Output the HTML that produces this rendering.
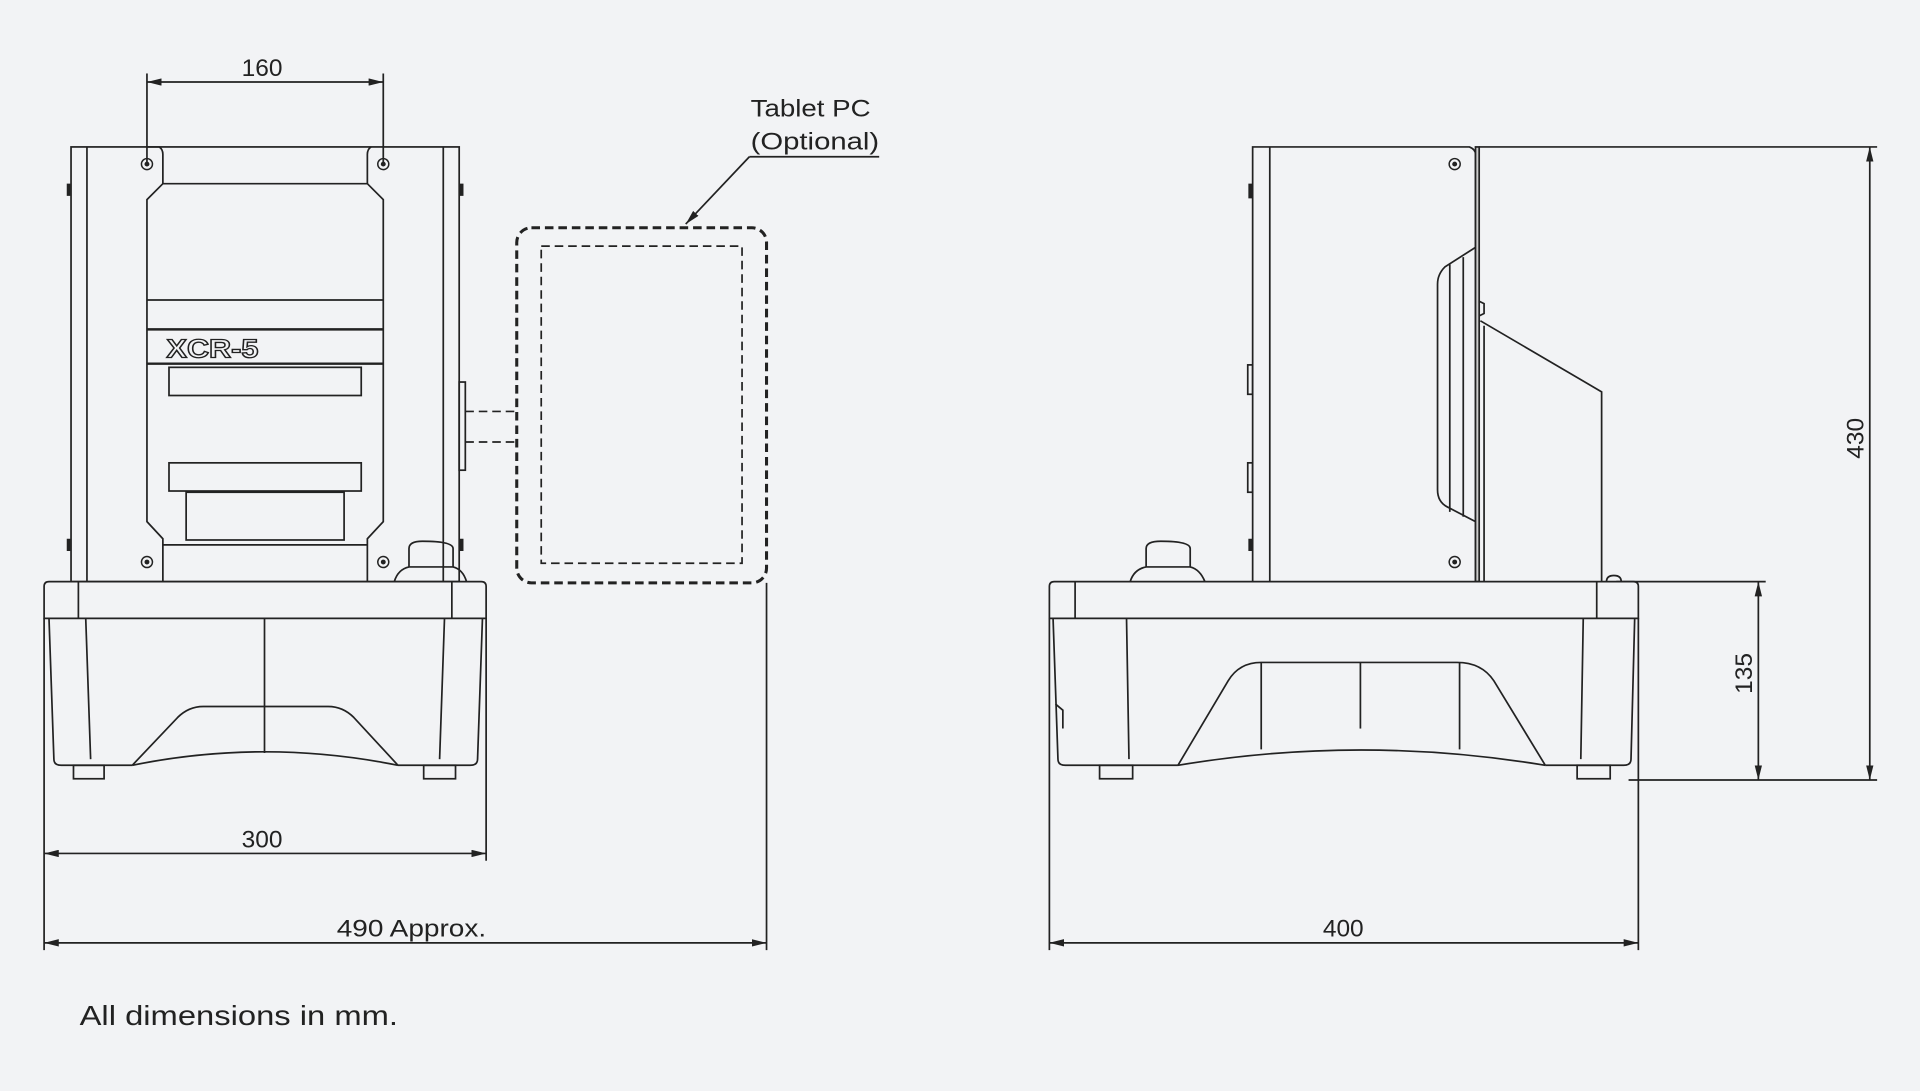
<!DOCTYPE html>
<html><head><meta charset="utf-8"><style>
html,body{margin:0;padding:0;background:#f2f3f5;}
svg{display:block;}
text{font-family:"Liberation Sans",sans-serif;fill:#222;}
</style></head><body>
<svg width="1920" height="1091" viewBox="0 0 1568 891" xmlns="http://www.w3.org/2000/svg">
<defs>
<marker id="a" viewBox="0 0 12 6" refX="12" refY="3" markerWidth="12" markerHeight="6" orient="auto-start-reverse" markerUnits="userSpaceOnUse"><path d="M0,0 L12,3 L0,6 z" fill="#222"/></marker>
<g id="s"><circle r="4.5" fill="none" stroke="#222" stroke-width="1.2"/><circle r="2" fill="#222"/></g>
</defs>
<rect width="1568" height="891" fill="#f2f3f5"/>
<g fill="none" stroke="#222" stroke-width="1.4">
<!-- LEFT MACHINE -->
<rect x="58" y="120" width="317" height="355"/>
<line x1="71" y1="120" x2="71" y2="475"/><line x1="362" y1="120" x2="362" y2="475"/>
<path d="M120,120 H130 Q133,122 133,126 V150 H300 V126 Q300,122 303,120"/>
<path d="M133,150 L120,163 V426 L133,440 V475 M300,150 L313,163 V426 L300,440 V475"/>
<line x1="133" y1="445" x2="300" y2="445"/>
<line x1="120" y1="245" x2="313" y2="245"/>
<line x1="120" y1="269" x2="313" y2="269" stroke-width="2"/>
<line x1="120" y1="297" x2="313" y2="297" stroke-width="2"/>
<rect x="138" y="300" width="157" height="23"/>
<rect x="138" y="378" width="157" height="23"/>
<rect x="152" y="402" width="129" height="39"/>
<path d="M56,160 V150 M56,440 V450 M377,150 V160 M377,440 V450" stroke-width="3"/>
<!-- e-stop -->
<path d="M334,463 V448 Q334,442 345,442 Q370,442 370,448 V463 M322,475 Q325,465 334,463 H370 Q378,465 381,475"/>
<!-- base -->
<path d="M36,505 V479 Q36,475 40,475 H393 Q397,475 397,479 V505 Z"/>
<line x1="64" y1="475" x2="64" y2="505"/><line x1="369" y1="475" x2="369" y2="505"/>
<path d="M40,505 L44,620 Q44,625 50,625 H108 M325,625 H384 Q390,625 390,620 L394,505"/>
<path d="M70,505 L74,620 M363,505 L359,620"/>
<path d="M108,625 L145,586 Q154,577 166,577 H268 Q280,577 289,586 L325,625"/>
<path d="M108,625 Q216,603 325,625"/>
<line x1="216" y1="505" x2="216" y2="615"/>
<rect x="60" y="625" width="25" height="11"/><rect x="346" y="625" width="26" height="11"/>
<!-- tablet -->
<rect x="375" y="312" width="5" height="72"/>
<g stroke-dasharray="7,4">
<line x1="380" y1="336" x2="422" y2="336"/><line x1="380" y1="361" x2="422" y2="361"/>
<rect x="422" y="186" width="204" height="290" rx="12" stroke-width="2.5"/>
<rect x="442" y="201" width="164" height="259"/>
</g>
<line x1="612" y1="128" x2="560" y2="183" marker-end="url(#a)"/>
<line x1="612" y1="128" x2="718" y2="128"/>
<!-- left dims -->
<line x1="120" y1="60" x2="120" y2="134"/><line x1="313" y1="60" x2="313" y2="134"/>
<line x1="120" y1="67" x2="313" y2="67" marker-start="url(#a)" marker-end="url(#a)"/>
<line x1="36" y1="505" x2="36" y2="776"/><line x1="397" y1="505" x2="397" y2="703"/>
<line x1="36" y1="697" x2="397" y2="697" marker-start="url(#a)" marker-end="url(#a)"/>
<line x1="626" y1="476" x2="626" y2="776"/>
<line x1="36" y1="770" x2="626" y2="770" marker-start="url(#a)" marker-end="url(#a)"/>

<!-- RIGHT MACHINE -->
<path d="M1023,475 V120 H1200 Q1205,122 1205,126 V475"/>
<line x1="1037" y1="120" x2="1037" y2="475"/>
<rect x="1205" y="120" width="3" height="355" fill="#ccc"/>
<path d="M1021,150 V162 M1021,440 V450" stroke-width="3"/>
<rect x="1019" y="298" width="4" height="24"/><rect x="1019" y="378" width="4" height="24"/>
<path d="M1205,202 L1180,218 Q1174,224 1174,232 V400 Q1174,410 1182,414 L1205,426"/>
<line x1="1184" y1="216" x2="1184" y2="418"/><line x1="1195" y1="210" x2="1195" y2="422"/>
<path d="M1209,262 L1308,320 V475 M1212,266 V475"/>
<path d="M1208,246 L1212,248 V256 L1208,258" />
<path d="M1312,475 Q1312,470 1318,470 Q1324,470 1324,475"/>
<!-- e-stop -->
<path d="M936,463 V448 Q936,442 948,442 Q972,442 972,448 V463 M923,475 Q926,465 936,463 H972 Q980,465 984,475"/>
<!-- base -->
<path d="M857,505 V479 Q857,475 861,475 H1334 Q1338,475 1338,479 V505 Z"/>
<line x1="878" y1="475" x2="878" y2="505"/><line x1="1304" y1="475" x2="1304" y2="505"/>
<path d="M860,505 L864,620 Q864,625 870,625 H962 M1262,625 H1326 Q1332,625 1332,620 L1335,505"/>
<path d="M920,505 L922,620 M1293,505 L1291,620"/>
<path d="M962,625 L1003,556 Q1012,541 1030,541 H1190 Q1210,541 1220,556 L1262,625"/>
<path d="M962,625 Q1111,600 1262,625"/>
<line x1="1030" y1="541" x2="1030" y2="612"/><line x1="1192" y1="541" x2="1192" y2="612"/>
<line x1="1111" y1="541" x2="1111" y2="595"/>
<path d="M862,575 L868,580 V595"/>
<rect x="898" y="625" width="27" height="11"/><rect x="1288" y="625" width="27" height="11"/>
<!-- right dims -->
<line x1="1208" y1="120" x2="1533" y2="120"/>
<line x1="1330" y1="637" x2="1533" y2="637"/>
<line x1="1527" y1="120" x2="1527" y2="637" marker-start="url(#a)" marker-end="url(#a)"/>
<line x1="1320" y1="475" x2="1442" y2="475"/>
<line x1="1436" y1="475" x2="1436" y2="637" marker-start="url(#a)" marker-end="url(#a)"/>
<line x1="857" y1="505" x2="857" y2="776"/><line x1="1338" y1="505" x2="1338" y2="776"/>
<line x1="857" y1="770" x2="1338" y2="770" marker-start="url(#a)" marker-end="url(#a)"/>
</g>
<use href="#s" x="120" y="134"/><use href="#s" x="313" y="134"/>
<use href="#s" x="120" y="459"/><use href="#s" x="313" y="459"/>
<use href="#s" x="1188" y="134"/><use href="#s" x="1188" y="459"/>
<text x="136" y="292" font-size="21" font-weight="bold" textLength="75" lengthAdjust="spacingAndGlyphs" stroke="#222" stroke-width="1.1" style="fill:none">XCR-5</text>
<g font-size="20" text-anchor="middle">
<text x="214" y="62">160</text>
<text x="214" y="692">300</text>
<text x="336" y="765" textLength="122" lengthAdjust="spacingAndGlyphs">490 Approx.</text>
<text x="1097" y="765">400</text>
<text transform="translate(1522,358) rotate(-90)">430</text>
<text transform="translate(1431,550) rotate(-90)">135</text>
</g>
<text x="613" y="95" font-size="20" textLength="98" lengthAdjust="spacingAndGlyphs">Tablet PC</text>
<text x="613" y="122" font-size="20" textLength="105" lengthAdjust="spacingAndGlyphs">(Optional)</text>
<text x="65" y="837" font-size="23" textLength="260" lengthAdjust="spacingAndGlyphs">All dimensions in mm.</text>
</svg>
</body></html>
